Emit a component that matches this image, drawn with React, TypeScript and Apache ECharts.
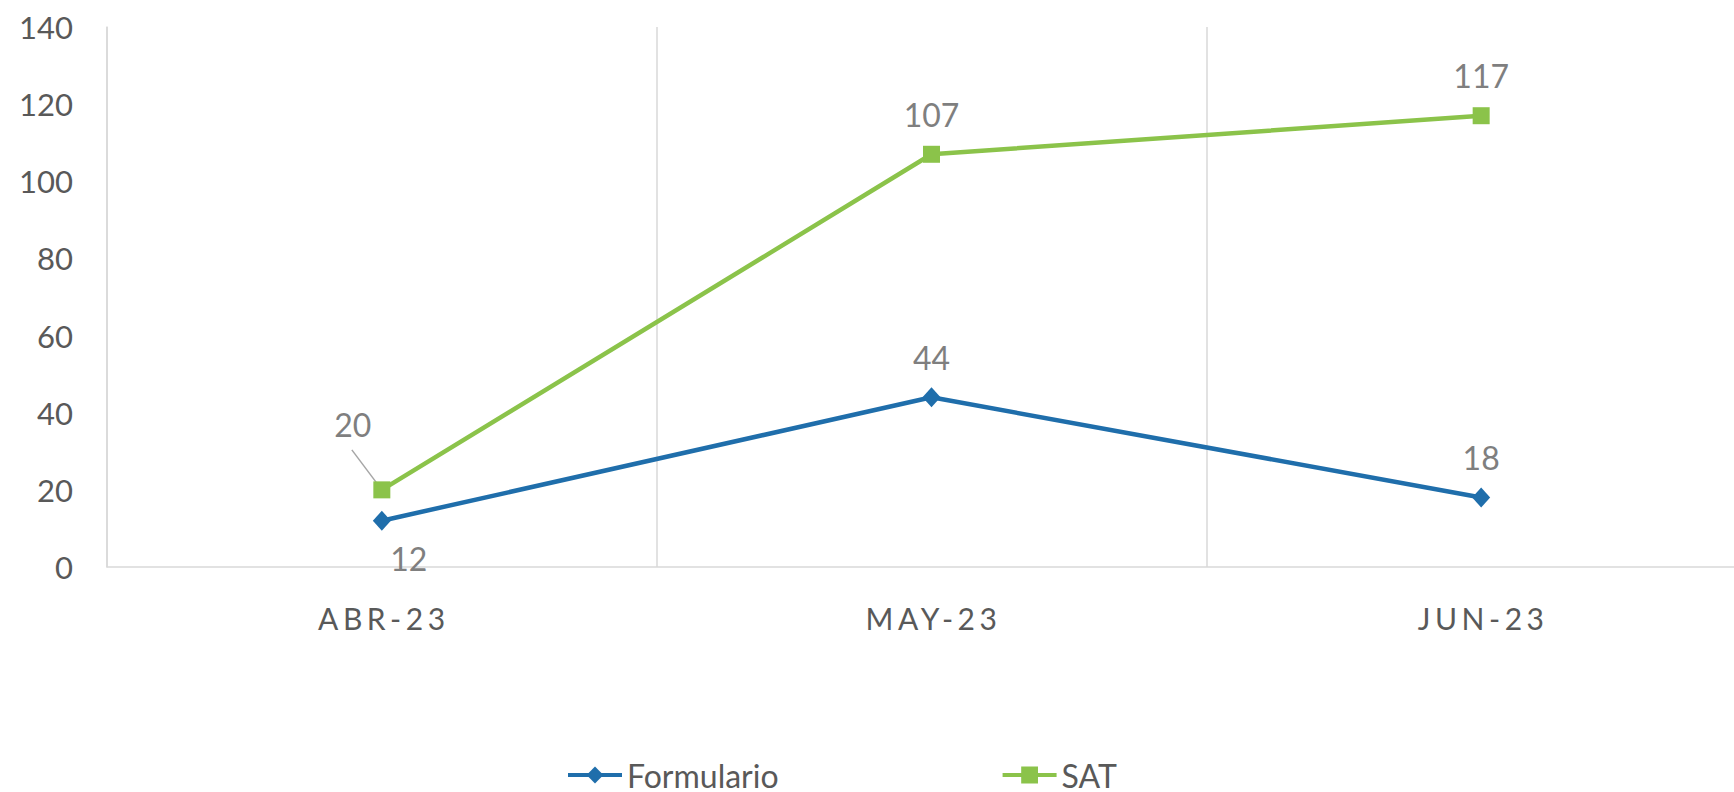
import React, { useEffect, useRef } from "react";
import * as echarts from "echarts";

const categories = ["ABR-23", "MAY-23", "JUN-23"];
const formulario = [12, 44, 18];
const sat = [20, 107, 117];
const yTicks = [0, 20, 40, 60, 80, 100, 120, 140];

const BLUE = "#1F6EAB";
const GREEN = "#8BC34A";
const LABEL = "#7F7F7F";
const AXIS_TXT = "#595959";
const FONT = "Lato, 'Liberation Sans', sans-serif";

export default function App() {
  const ref = useRef<HTMLDivElement>(null);
  useEffect(() => {
    document.body.style.margin = "0";
    if (!ref.current) return;
    const chart = echarts.init(ref.current, null, { renderer: "svg" });
    const lbl = (offset: number[]) => ({
      show: true,
      position: "inside",
      offset,
      color: LABEL,
      fontSize: 32,
      fontFamily: FONT,
    });
    chart.setOption({
      animation: false,
      grid: {
        left: 107,
        top: 27,
        width: 1649,
        height: 540,
        outerBoundsMode: "none",
        containLabel: false,
      },
      legend: {
        left: 561,
        top: 754,
        itemGap: 222,
        itemWidth: 54,
        itemHeight: 21,
        lineStyle: { width: 4 },
        textStyle: { color: AXIS_TXT, fontSize: 32, lineHeight: 32, fontFamily: FONT },
        data: ["Formulario", "SAT"],
      },
      xAxis: {
        type: "category",
        data: categories,
        boundaryGap: true,
        axisLine: { lineStyle: { color: "#D9D9D9", width: 1.5 } },
        axisTick: { show: false },
        splitLine: { show: true, lineStyle: { color: "#D9D9D9", width: 1.5 } },
        axisLabel: {
          color: AXIS_TXT,
          fontSize: 30,
          fontFamily: FONT,
          margin: 36,
          padding: [0, 0, 0, 4],
        },
      },
      yAxis: {
        type: "value",
        min: yTicks[0],
        max: yTicks[yTicks.length - 1],
        interval: 20,
        axisLine: { show: true, lineStyle: { color: "#D9D9D9", width: 1.5 } },
        axisTick: { show: false },
        splitLine: { show: false },
        axisLabel: { color: AXIS_TXT, fontSize: 31, fontFamily: FONT, margin: 34 },
      },
      series: [
        {
          name: "Formulario",
          type: "line",
          data: formulario.map((v, i) => ({
            value: v,
            label: lbl(i === 0 ? [27, 38] : [0, -40]),
          })),
          symbol: "diamond",
          symbolSize: [18, 20],
          lineStyle: { color: BLUE, width: 4.5 },
          itemStyle: { color: BLUE },
        },
        {
          name: "SAT",
          type: "line",
          data: sat.map((v, i) => ({
            value: v,
            label: lbl(i === 0 ? [-29, -65] : [0, -40]),
          })),
          symbol: "rect",
          symbolSize: 17,
          lineStyle: { color: GREEN, width: 4.5 },
          itemStyle: { color: GREEN },
        },
      ],
    });
    const p = chart.convertToPixel({ seriesIndex: 1 }, [0, sat[0]]) as number[];
    chart.setOption({
      graphic: [
        {
          type: "line",
          shape: { x1: p[0], y1: p[1], x2: p[0] - 30, y2: p[1] - 40 },
          style: { stroke: "#A6A6A6", lineWidth: 1.5 },
          z: 1,
        },
      ],
    });
    return () => chart.dispose();
  }, []);
  return (
    <>
      <style>{`svg text[style*="30px"] { letter-spacing: 4.5px; }`}</style>
      <div ref={ref} style={{ width: 1734, height: 792 }} />
    </>
  );
}
